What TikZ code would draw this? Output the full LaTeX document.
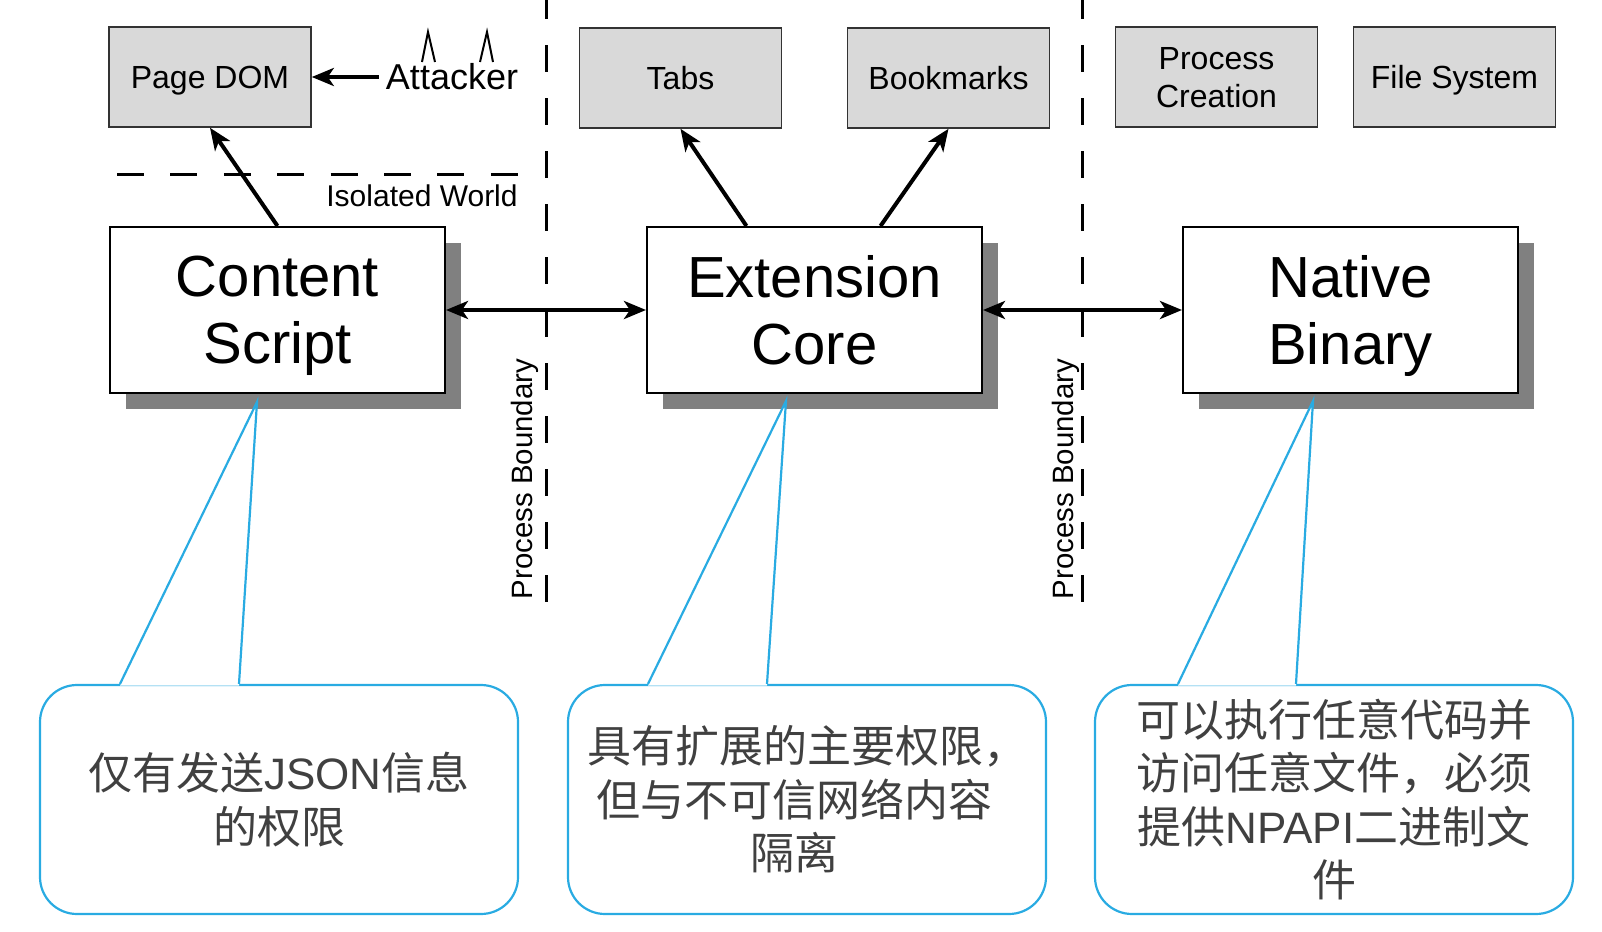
\documentclass[tikz,border=0pt]{standalone}
\usepackage{fontspec}
\setmainfont{Liberation Sans}
\newfontfamily\cjk{Noto Sans CJK SC}
\usepackage{tikz}
\usetikzlibrary{arrows.meta,shadows}

\definecolor{noteblue}{RGB}{41,171,226}
\definecolor{notetext}{RGB}{64,64,64}
\definecolor{boxgray}{RGB}{217,217,217}

\begin{document}
\begin{tikzpicture}[x=0.5pt, y=-0.5pt,
  res/.style={draw=black!80, fill=boxgray, line width=0.8pt, minimum width=101pt,
    minimum height=50pt, inner sep=1pt, text depth=0pt, align=center,
    font=\fontsize{16}{19}\selectfont},
  comp/.style={draw, fill=white, line width=1pt, minimum width=167.5pt,
    minimum height=83pt, text depth=0pt, align=center, font=\fontsize{29}{33.5}\selectfont,
    general shadow={fill=black!50, shadow xshift=8pt, shadow yshift=-8pt}},
  note/.style={draw=noteblue, line width=1.1pt, rounded corners=18.5pt,
    minimum width=239pt, minimum height=114.5pt, align=center,
    text=notetext, font=\cjk\fontsize{22}{26.7}\selectfont},
  callout/.style={draw=noteblue, line width=1.1pt},
  arr/.style={-{Stealth[length=11pt,width=9pt,inset=3pt]}, line width=2pt},
  barr/.style={{Stealth[length=11pt,width=9pt,inset=3pt]}-{Stealth[length=11pt,width=9pt,inset=3pt]}, line width=2pt},
  bound/.style={line width=1.5pt, dash pattern=on 13.5pt off 13pt, dash phase=4pt},
  iso/.style={line width=1.5pt, dash pattern=on 13.5pt off 13.2pt},
]
\useasboundingbox (0,0) rectangle (1602,932);

% Row 0: resources
\node (pagedom) [res] at (210,77) {Page DOM};
\node (tabs) [res] at (680.5,78) {Tabs};
\node (bookmarks) [res] at (948.5,78) {Bookmarks};
\node (proccreate) [res] at (1216.5,77) {Process\\Creation};
\node (filesys) [res] at (1454.5,77) {File System};

% Attacker (with horns)
\node (attacker) [font=\fontsize{18}{21}\selectfont] at (452,77) {Attacker};
\draw[line width=1pt] (422,62) -- (428,32) -- (435,62);
\draw[line width=1pt] (480,62) -- (487,32) -- (493,62);
\draw[arr] (attacker) -- (pagedom);

% isolated world and process boundaries
\draw[iso] (117,174) -- (518,174);
\node (isoworld) [anchor=east, inner sep=0pt, font=\fontsize{15}{18}\selectfont] at (518,196) {Isolated World};
\draw[bound] (546,0) -- (546,608);
\draw[bound] (1082,0) -- (1082,608);
\node (pb1) [rotate=90, font=\fontsize{14.7}{17}\selectfont] at (525,479) {Process Boundary};
\node (pb2) [rotate=90, font=\fontsize{14.7}{17}\selectfont] at (1066,479) {Process Boundary};

% Row 1: components
\node (cs) [comp] at (277.5,310) {Content\\Script};
\node (extcore) [comp] at (814.5,310) {Extension\\Core};
\node (native) [comp] at (1350.5,310) {Native\\Binary};
\draw[arr] (cs.north) -- (pagedom.south);
\draw[arr] ([xshift=-34pt]extcore.north) -- (tabs.south);
\draw[arr] ([xshift=33pt]extcore.north) -- (bookmarks.south);
\draw[barr] (cs) -- (extcore);
\draw[barr] (extcore) -- (native);

% Row 2: notes with pointers
\node (note1) [note] at (279,799.5) {仅有发送{\rmfamily JSON}信息\\的权限};
\node (note2) [note] at (807,799.5) {具有扩展的主要权限，\\但与不可信网络内容\hspace*{13pt}\mbox{}\\隔离\hspace*{13pt}\mbox{}};
\node (note3) [note] at (1334,799.5) {可以执行任意代码并\\访问任意文件，必须\\提供{\rmfamily NPAPI}二进制文\\件};
\coordinate (tip1) at ([shift={(-20.5,8)}]cs.south);
\coordinate (tip2) at ([shift={(-28.5,7)}]extcore.south);
\coordinate (tip3) at ([shift={(-37.5,7)}]native.south);
\fill[white] ([shift={(-79.5pt,-0.9pt)}]note1.north) -- (tip1) -- ([shift={(-20pt,-0.9pt)}]note1.north) -- cycle;
\draw[callout] ([xshift=-79.5pt]note1.north) -- (tip1) -- ([xshift=-20pt]note1.north);
\fill[white] ([shift={(-79.5pt,-0.9pt)}]note2.north) -- (tip2) -- ([shift={(-20pt,-0.9pt)}]note2.north) -- cycle;
\draw[callout] ([xshift=-79.5pt]note2.north) -- (tip2) -- ([xshift=-20pt]note2.north);
\fill[white] ([shift={(-78pt,-0.9pt)}]note3.north) -- (tip3) -- ([shift={(-19pt,-0.9pt)}]note3.north) -- cycle;
\draw[callout] ([xshift=-78pt]note3.north) -- (tip3) -- ([xshift=-19pt]note3.north);

\end{tikzpicture}
\end{document}
